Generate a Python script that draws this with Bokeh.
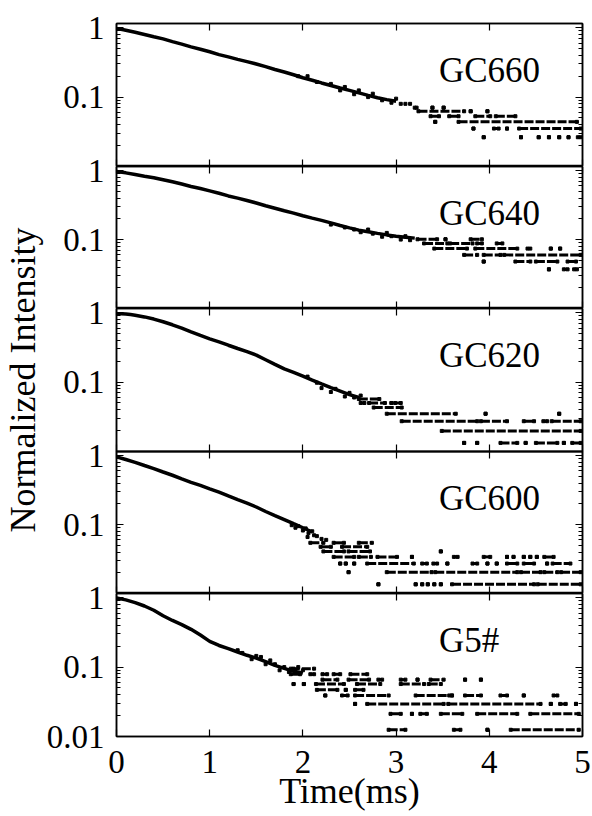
from bokeh.plotting import figure
from bokeh.models import (Range1d, LinearAxis, LogAxis, FixedTicker,
                          CustomJSTickFormatter, Label)
from bokeh.layouts import column
from bokeh.embed import file_html
from bokeh.resources import INLINE

FONT = "Liberation Serif"

# ---------------- data ----------------
names = ["GC660", "GC640", "GC620", "GC600", "G5#"]
x_ticks = [0, 1, 2, 3, 4, 5]
y_major_top = [0.1, 1]
y_major_bottom = [0.01, 0.1, 1]
y_minor = [0.02, 0.03, 0.04, 0.05, 0.06, 0.07, 0.08, 0.09,
           0.2, 0.3, 0.4, 0.5, 0.6, 0.7, 0.8, 0.9]

# GC660 : dense decay, scattered points, tail runs (level, start, end)
gc660_t = [0.0, 0.05, 0.1, 0.2, 0.3, 0.4, 0.5, 0.6, 0.7, 0.8, 0.9, 1.0, 1.1, 1.2, 1.3, 1.4,
           1.5, 1.6, 1.7, 1.8, 1.9, 2.0, 2.1, 2.2, 2.3, 2.4, 2.5, 2.6, 2.7, 2.8, 2.9, 3.0]
gc660_i = [0.96, 0.95, 0.92, 0.86, 0.80, 0.74, 0.69, 0.63, 0.58, 0.53, 0.49, 0.45, 0.41, 0.38,
           0.35, 0.325, 0.30, 0.275, 0.25, 0.23, 0.21, 0.19, 0.175, 0.16, 0.147, 0.135, 0.125,
           0.115, 0.106, 0.098, 0.092, 0.087]
gc660_dot_t = [1.95, 2.05, 2.15, 2.3, 2.4, 2.45, 2.55, 2.6, 2.7, 2.75, 2.85, 2.95, 3.0, 3.05,
               3.1, 3.15]
gc660_dot_i = [0.2, 0.2, 0.165, 0.155, 0.125, 0.14, 0.11, 0.125, 0.1, 0.112, 0.09, 0.083, 0.095,
               0.08, 0.08, 0.08]
gc660_run_i = [0.0705, 0.0705, 0.0705, 0.0625, 0.0625, 0.0625, 0.053, 0.053, 0.053, 0.053,
               0.044, 0.044, 0.0352, 0.0352, 0.0352, 0.0352,
               0.0264, 0.0264, 0.0264, 0.0264, 0.0264, 0.0264, 0.0264]
gc660_run_t0 = [3.20, 3.39, 3.51, 3.24, 3.80, 3.98, 3.37, 3.57, 3.85, 4.07,
                3.42, 3.67, 3.83, 4.05, 4.19, 4.32,
                3.94, 4.34, 4.53, 4.64, 4.75, 4.85, 4.95]
gc660_run_t1 = [3.22, 3.39, 3.51, 3.73, 3.80, 3.98, 3.46, 3.67, 4.01, 4.28,
                3.42, 4.94, 3.83, 4.10, 4.19, 4.98,
                3.94, 4.34, 4.53, 4.64, 4.75, 4.85, 4.98]

# GC640
gc640_t = [0.0, 0.1, 0.2, 0.3, 0.4, 0.5, 0.6, 0.7, 0.8, 0.9, 1.0, 1.1, 1.2, 1.3, 1.4, 1.5,
           1.6, 1.7, 1.8, 1.9, 2.0, 2.1, 2.2, 2.3, 2.4, 2.5, 2.6, 2.7, 2.8, 2.9, 3.0, 3.1, 3.2]
gc640_i = [0.97, 0.93, 0.88, 0.83, 0.79, 0.74, 0.69, 0.64, 0.59, 0.55, 0.51, 0.47, 0.43, 0.40,
           0.37, 0.34, 0.31, 0.285, 0.262, 0.242, 0.222, 0.205, 0.19, 0.175, 0.16, 0.148, 0.137,
           0.13, 0.123, 0.117, 0.112, 0.108, 0.105]
gc640_dot_t = [2.3, 2.45, 2.55, 2.62, 2.7, 2.75, 2.85, 2.9, 2.95, 3.05, 3.1, 3.15]
gc640_dot_i = [0.165, 0.15, 0.14, 0.128, 0.14, 0.122, 0.11, 0.125, 0.112, 0.1, 0.112, 0.098]
gc640_run_i = [0.101, 0.101, 0.101, 0.088, 0.088, 0.088, 0.088,
               0.074, 0.074, 0.074, 0.074, 0.074, 0.060, 0.060, 0.060,
               0.048, 0.048, 0.048, 0.048, 0.037, 0.037, 0.037]
gc640_run_t0 = [3.23, 3.53, 3.80, 3.30, 3.58, 3.87, 4.08,
                3.41, 3.85, 4.41, 4.66, 4.76, 3.73, 3.94, 4.16,
                3.94, 4.28, 4.50, 4.84, 4.64, 4.80, 4.91]
gc640_run_t1 = [3.44, 3.53, 3.92, 3.55, 3.82, 3.92, 4.14,
                3.76, 4.30, 4.44, 4.66, 4.76, 3.87, 4.12, 4.98,
                3.94, 4.44, 4.73, 4.93, 4.64, 4.84, 4.94]

# GC620
gc620_t = [0.0, 0.05, 0.1, 0.15, 0.2, 0.3, 0.4, 0.5, 0.6, 0.7, 0.8, 0.9, 1.0, 1.1, 1.2, 1.3,
           1.4, 1.5, 1.6, 1.7, 1.8, 1.9, 2.0, 2.1, 2.2, 2.3, 2.4, 2.5, 2.6]
gc620_i = [0.97, 0.97, 0.96, 0.94, 0.92, 0.87, 0.81, 0.74, 0.67, 0.60, 0.53, 0.47, 0.42, 0.38,
           0.34, 0.305, 0.275, 0.245, 0.21, 0.18, 0.155, 0.138, 0.122, 0.107, 0.094, 0.083,
           0.074, 0.066, 0.06]
gc620_dot_t = [2.05, 2.15, 2.2, 2.3, 2.35, 2.45, 2.5, 2.55, 2.62]
gc620_dot_i = [0.12, 0.098, 0.082, 0.072, 0.08, 0.062, 0.07, 0.06, 0.064]
gc620_run_i = [0.057, 0.050, 0.050, 0.050, 0.050, 0.043, 0.035, 0.035, 0.035,
               0.0273, 0.0273, 0.0273, 0.0273, 0.0273, 0.0198,
               0.0133, 0.0133, 0.0133, 0.0133, 0.0133, 0.0133, 0.0133]
gc620_run_t0 = [2.60, 2.62, 2.71, 2.95, 2.99, 2.76, 2.90, 3.96, 4.75,
                3.06, 3.91, 4.37, 4.58, 4.67, 3.49,
                3.73, 3.87, 4.12, 4.39, 4.50, 4.80, 4.89]
gc620_run_t1 = [2.82, 2.66, 2.88, 2.95, 3.05, 3.06, 3.64, 3.96, 4.75,
                3.87, 4.19, 4.48, 4.62, 4.98, 4.98,
                3.73, 3.87, 4.30, 4.39, 4.73, 4.80, 4.98]

# GC600
gc600_t = [0.0, 0.1, 0.2, 0.3, 0.4, 0.5, 0.6, 0.7, 0.8, 0.9, 1.0, 1.1, 1.2, 1.3, 1.4, 1.5,
           1.6, 1.7, 1.8, 1.9, 2.0, 2.1]
gc600_i = [0.96, 0.88, 0.80, 0.72, 0.65, 0.58, 0.52, 0.46, 0.41, 0.37, 0.33, 0.295, 0.26,
           0.23, 0.205, 0.18, 0.155, 0.135, 0.118, 0.103, 0.09, 0.078]
gc600_dot_t = [1.88, 1.92, 1.95, 2.0, 2.03, 2.05, 2.06, 2.1, 2.12, 2.15, 2.2, 2.25]
gc600_dot_i = [0.098, 0.09, 0.095, 0.082, 0.088, 0.066, 0.075, 0.08, 0.07, 0.068, 0.062, 0.06]
gc600_run_i = [0.0544, 0.0544, 0.0544, 0.0476, 0.0476, 0.0408, 0.0408, 0.0408,
               0.034, 0.034, 0.034, 0.034, 0.034, 0.034, 0.034, 0.034, 0.034, 0.034, 0.034, 0.034,
               0.0272, 0.0272, 0.0272, 0.0272, 0.0272, 0.0272, 0.0272, 0.0272, 0.0272, 0.0272,
               0.0272, 0.0272, 0.0272, 0.0272,
               0.0204, 0.0204, 0.0204, 0.0204, 0.0204, 0.0204,
               0.0136, 0.0136, 0.0136, 0.0136, 0.0136, 0.0136, 0.0136, 0.0136]
gc600_run_t0 = [2.08, 2.33, 2.60, 2.19, 2.42, 2.22, 2.49, 3.48,
                2.33, 2.60, 2.80, 3.17, 3.62, 3.94, 4.19, 4.26, 4.37, 4.44, 4.51, 4.59,
                2.40, 2.46, 2.55, 2.69, 3.28, 3.40, 3.55, 3.82, 3.98, 4.08, 4.19, 4.37,
                4.62, 4.68,
                2.49, 2.90, 3.42, 4.34, 4.59, 4.77,
                2.81, 3.21, 3.28, 3.34, 3.41, 3.48, 3.60, 4.52]
gc600_run_t1 = [2.22, 2.44, 2.74, 2.30, 2.69, 2.44, 2.72, 3.48,
                2.55, 2.73, 3.01, 3.17, 3.66, 4.01, 4.19, 4.26, 4.37, 4.44, 4.51, 4.69,
                2.40, 2.46, 2.55, 3.19, 3.33, 3.44, 3.55, 3.87, 3.98, 4.08, 4.30, 4.48,
                4.62, 4.87,
                2.49, 3.38, 4.30, 4.55, 4.73, 4.98,
                2.81, 3.21, 3.28, 3.34, 3.41, 3.48, 4.48, 4.98]

# G5#
g5_t = [0.0, 0.1, 0.2, 0.3, 0.4, 0.5, 0.6, 0.7, 0.8, 0.9, 1.0, 1.1, 1.2, 1.3, 1.4, 1.5,
        1.6, 1.7, 1.8, 1.9, 2.0]
g5_i = [0.99, 0.93, 0.85, 0.76, 0.66, 0.55, 0.47, 0.41, 0.35, 0.29, 0.235, 0.205, 0.185,
        0.165, 0.148, 0.135, 0.12, 0.106, 0.096, 0.087, 0.082]
g5_dot_t = [1.3, 1.35, 1.45, 1.5, 1.55, 1.6, 1.65, 1.7, 1.75, 1.8, 1.85, 1.9, 1.95, 2.0]
g5_dot_i = [0.175, 0.16, 0.13, 0.145, 0.14, 0.11, 0.125, 0.11, 0.09, 0.1, 0.085, 0.095, 0.1, 0.09]
g5_run_i = [0.095, 0.079, 0.079, 0.079, 0.079, 0.079,
            0.066, 0.066, 0.066, 0.066, 0.066, 0.066, 0.066, 0.066,
            0.057, 0.057, 0.057, 0.057, 0.057, 0.057,
            0.047, 0.047, 0.047,
            0.039, 0.039, 0.039, 0.039, 0.039, 0.039, 0.039, 0.039, 0.039,
            0.0295, 0.0295, 0.0295, 0.0295, 0.0295, 0.0295,
            0.0212, 0.0212, 0.0212, 0.0212, 0.0212, 0.0212,
            0.0125, 0.0125, 0.0125, 0.0125]
g5_run_t0 = [1.87, 1.87, 2.08, 2.21, 2.33, 2.51,
             2.21, 2.49, 2.81, 3.05, 3.23, 3.37, 3.74, 3.91,
             1.90, 2.01, 2.14, 2.58, 3.05, 3.35,
             2.15, 2.46, 2.56,
             2.24, 2.42, 2.56, 3.21, 3.60, 3.74, 4.12, 4.37, 4.69,
             2.56, 2.69, 3.56, 4.66, 4.76, 4.93,
             2.94, 3.17, 3.26, 3.48, 3.87, 4.44,
             2.92, 3.62, 3.98, 4.23]
g5_run_t1 = [2.12, 1.97, 2.12, 2.26, 2.40, 2.69,
             2.37, 2.71, 2.85, 3.10, 3.23, 3.51, 3.74, 3.91,
             1.90, 2.01, 2.44, 2.83, 3.30, 3.48,
             2.37, 2.46, 2.65,
             2.24, 2.48, 2.92, 3.57, 3.60, 3.91, 4.19, 4.37, 4.73,
             2.56, 3.51, 4.55, 4.66, 4.82, 4.93,
             3.05, 3.17, 3.33, 3.71, 4.30, 4.96,
             3.10, 3.69, 3.98, 4.96]

series = [
    (gc660_t, gc660_i, gc660_dot_t, gc660_dot_i, gc660_run_i, gc660_run_t0, gc660_run_t1),
    (gc640_t, gc640_i, gc640_dot_t, gc640_dot_i, gc640_run_i, gc640_run_t0, gc640_run_t1),
    (gc620_t, gc620_i, gc620_dot_t, gc620_dot_i, gc620_run_i, gc620_run_t0, gc620_run_t1),
    (gc600_t, gc600_i, gc600_dot_t, gc600_dot_i, gc600_run_i, gc600_run_t0, gc600_run_t1),
    (g5_t, g5_i, g5_dot_t, g5_dot_i, g5_run_i, g5_run_t0, g5_run_t1),
]

# ---------------- layout ----------------
frame_heights = [143, 142, 143, 142, 143]
border_top = [23, 16, 100, 16, 16]
border_bottom = [0, 0, 100, 0, 80]
figs = []

for k, (name, data) in enumerate(zip(names, series)):
    t, inten, dt, di, ri, r0, r1 = data
    last = (k == len(names) - 1)
    p = figure(frame_width=466, frame_height=frame_heights[k],
               x_range=Range1d(0, 5), y_range=Range1d(0.01, 1.15),
               y_axis_type="log", x_axis_location=None, y_axis_location=None,
               output_backend="svg", toolbar_location=None,
               min_border_left=116, min_border_right=10,
               min_border_top=border_top[k], min_border_bottom=border_bottom[k],
               border_fill_color=None, background_fill_color=None,
               outline_line_color="black", outline_line_width=1.5)
    p.grid.visible = False
    st = {}
    if k > 0:
        st["margin-top"] = "-%dpx" % border_top[k]
    if not last and border_bottom[k] > 0:
        st["margin-bottom"] = "-%dpx" % border_bottom[k]
    if st:
        p.styles = st

    ymaj = y_major_bottom if last else y_major_top
    left = LogAxis(ticker=FixedTicker(ticks=ymaj, minor_ticks=y_minor),
                   formatter=CustomJSTickFormatter(code="return tick.toString();"),
                   major_tick_in=7, major_tick_out=0, minor_tick_in=4, minor_tick_out=0,
                   major_label_text_font=FONT, major_label_text_font_size="33px",
                   major_label_text_color="black",
                   major_label_standoff=12, axis_line_width=1.5,
                   major_tick_line_width=1.2, minor_tick_line_width=1.2)
    if k == 2:
        left.axis_label = "Normalized Intensity"
        left.axis_label_text_font = FONT
        left.axis_label_text_font_size = "36px"
        left.axis_label_text_font_style = "normal"
        left.axis_label_text_color = "black"
        left.axis_label_standoff = 17
    p.add_layout(left, "left")

    right = LogAxis(ticker=FixedTicker(ticks=ymaj, minor_ticks=y_minor),
                    major_tick_in=7, major_tick_out=0, minor_tick_in=4, minor_tick_out=0,
                    major_label_text_font_size="1px", major_label_text_color=None,
                    major_label_standoff=0,
                    axis_line_width=1.5, major_tick_line_width=1.2, minor_tick_line_width=1.2)
    p.add_layout(right, "right")

    top = LinearAxis(ticker=FixedTicker(ticks=x_ticks),
                     major_tick_in=7, major_tick_out=0, minor_tick_in=0, minor_tick_out=0,
                     major_label_text_font_size="1px", major_label_text_color=None,
                     major_label_standoff=0,
                     axis_line_width=1.5, major_tick_line_width=1.2)
    p.add_layout(top, "above")

    bottom = LinearAxis(ticker=FixedTicker(ticks=x_ticks),
                        major_tick_in=7, major_tick_out=0, minor_tick_in=0, minor_tick_out=0,
                        axis_line_width=1.5, major_tick_line_width=1.2)
    if last:
        bottom.major_label_text_font = FONT
        bottom.major_label_text_font_size = "33px"
        bottom.major_label_text_color = "black"
        bottom.major_label_standoff = 14
        bottom.axis_label = "Time(ms)"
        bottom.axis_label_text_font = FONT
        bottom.axis_label_text_font_size = "36px"
        bottom.axis_label_text_font_style = "normal"
        bottom.axis_label_text_color = "black"
        bottom.axis_label_standoff = -5
    else:
        bottom.major_label_text_font_size = "1px"
        bottom.major_label_text_color = None
        bottom.major_label_standoff = 0
    p.add_layout(bottom, "below")

    # main decay (dense points merge into a thick band)
    p.line(t, inten, line_width=3.5, color="black")
    # scattered points
    p.scatter(dt, di, marker="square", size=3, color="black")
    # quantised tail: runs of adjacent channels at one count level
    p.segment(x0=r0, y0=ri, x1=r1, y1=ri, line_width=3, color="black",
              line_dash="9 2")
    p.scatter(r0, ri, marker="square", size=3, color="black")
    p.scatter(r1, ri, marker="square", size=3, color="black")

    p.add_layout(Label(x=3.46, y=0.242, text=name, text_font=FONT,
                       text_font_size="35px", text_baseline="middle",
                       text_align="left", text_color="black"))
    figs.append(p)

layout = column(*figs, spacing=0)
open("out.html", "w").write(file_html(layout, INLINE))
